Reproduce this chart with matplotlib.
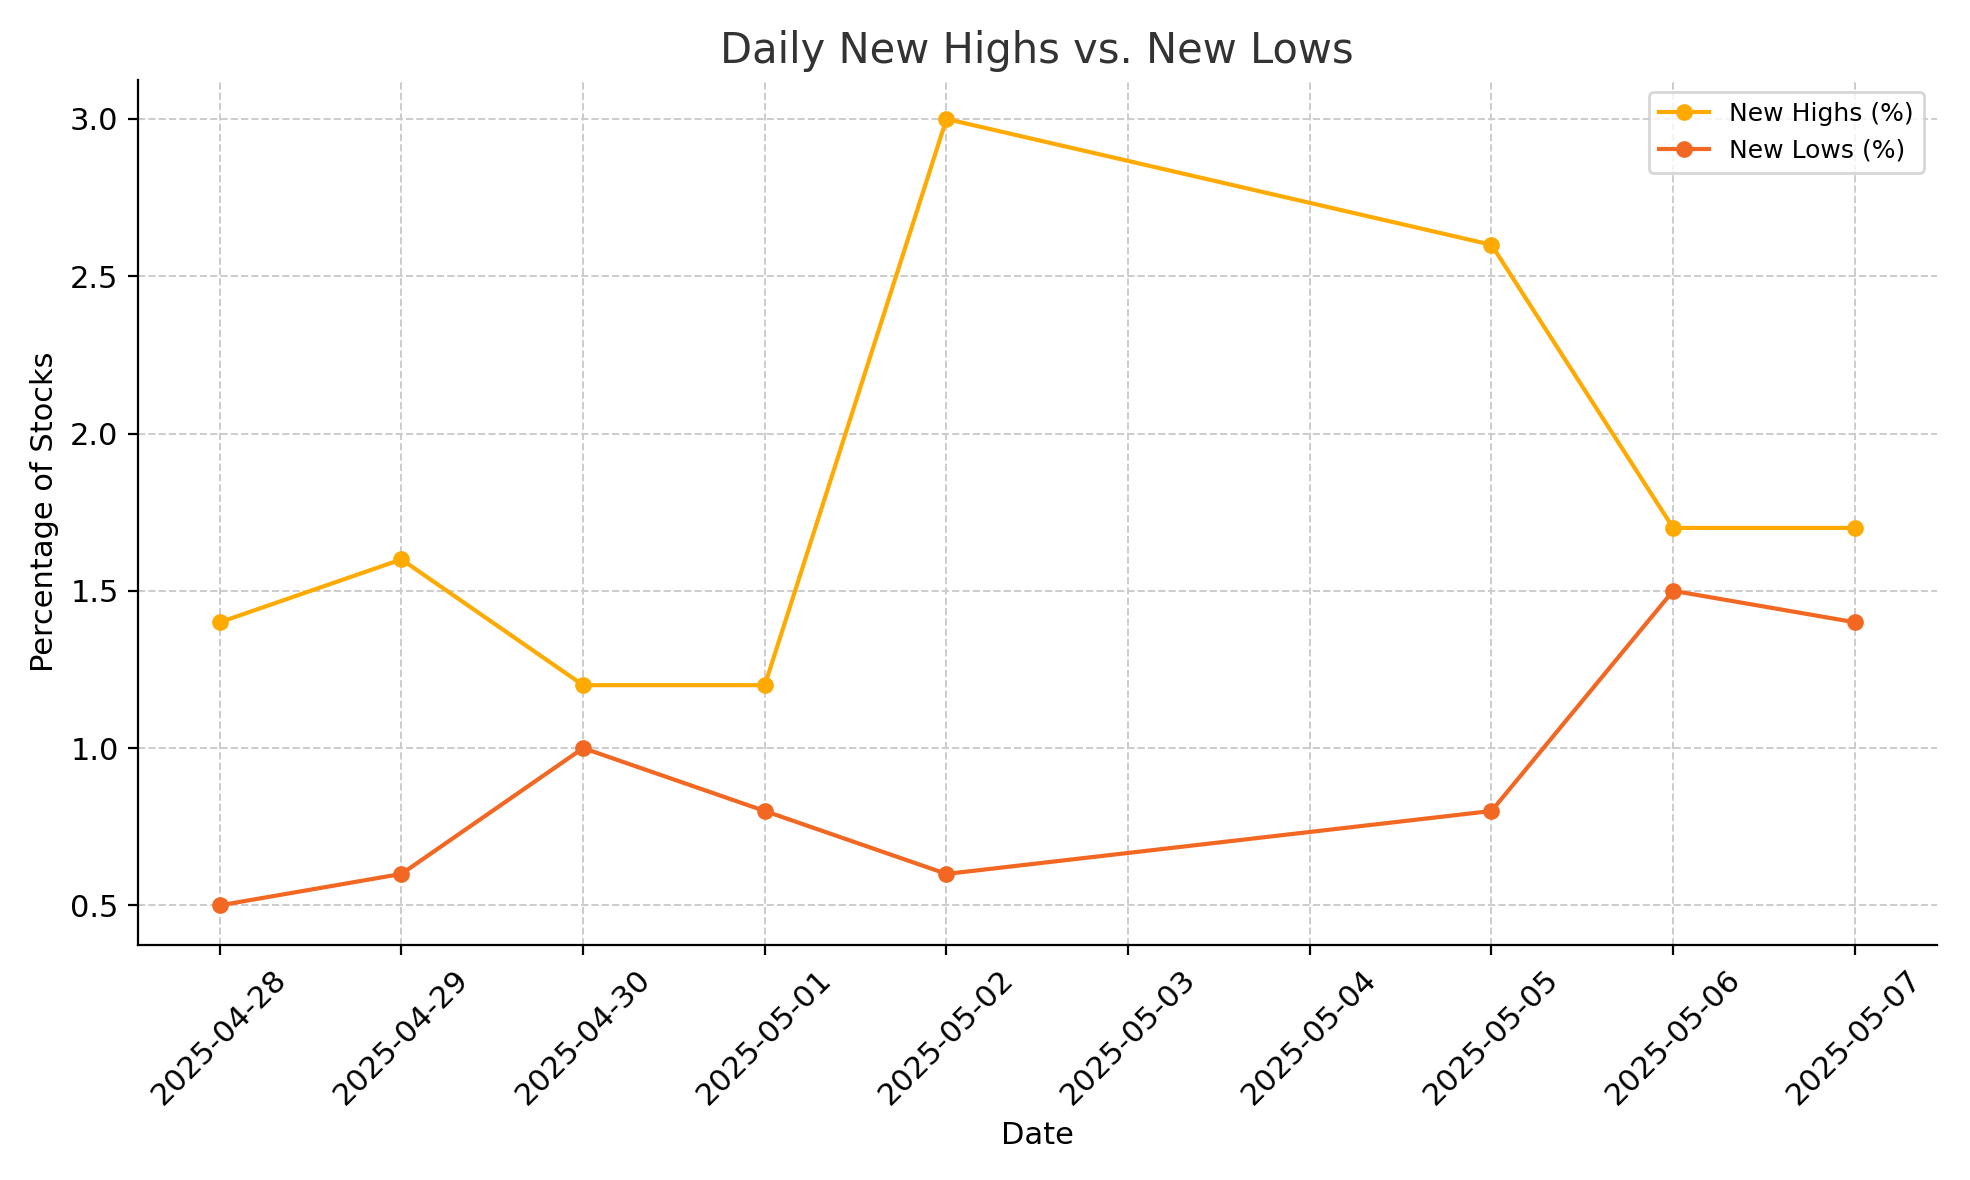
import matplotlib
matplotlib.use("Agg")
import matplotlib.pyplot as plt
import matplotlib.dates as mdates
import pandas as pd

dates = ["2025-04-28","2025-04-29","2025-04-30","2025-05-01","2025-05-02","2025-05-05","2025-05-06","2025-05-07"]
new_highs = [1.4,1.6,1.2,1.2,3.0,2.6,1.7,1.7]
new_lows = [0.5,0.6,1.0,0.8,0.6,0.8,1.5,1.4]

d = pd.to_datetime(dates)
fig, ax = plt.subplots(figsize=(9.85,5.9), dpi=200)
ax.plot(d, new_highs, marker='o', color='#FFAA00', lw=1.5, ms=5, label='New Highs (%)')
ax.plot(d, new_lows, marker='o', color='#F26722', lw=1.5, ms=5, label='New Lows (%)')
ax.set_title('Daily New Highs vs. New Lows', fontsize=15, color='#333333')
ax.set_xlabel('Date', fontsize=11)
ax.set_ylabel('Percentage of Stocks', fontsize=11)
ax.xaxis.set_major_locator(mdates.DayLocator())
ax.xaxis.set_major_formatter(mdates.DateFormatter('%Y-%m-%d'))
plt.setp(ax.get_xticklabels(), rotation=45, ha='center', fontsize=11)
ax.tick_params(axis='y', labelsize=11)
ax.grid(True, linestyle='--', color='#cccccc', lw=0.7)
for s in ['top','right']:
    ax.spines[s].set_visible(False)
ax.legend(fontsize=9)
fig.tight_layout()
fig.savefig('out.png', dpi=200)
